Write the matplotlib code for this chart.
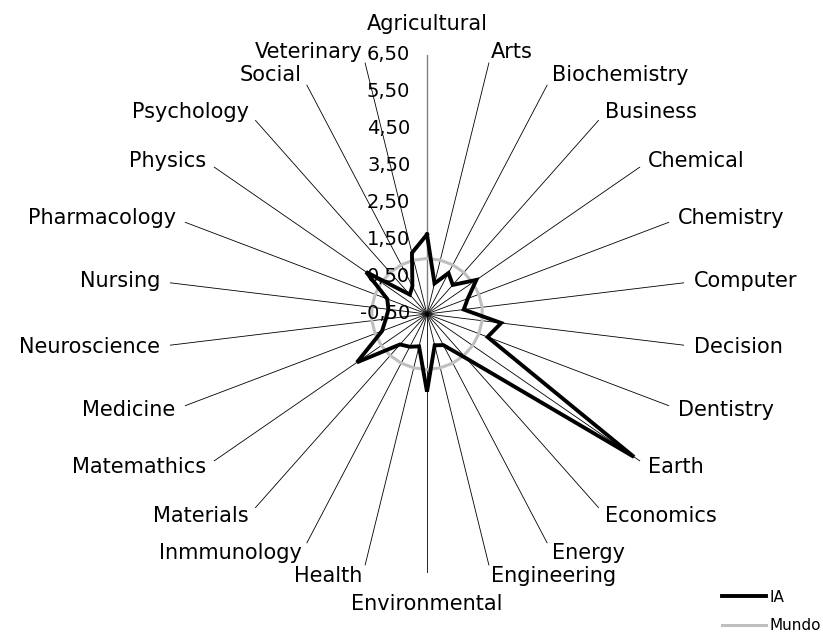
import numpy as np
import matplotlib
matplotlib.use("Agg")
import matplotlib.pyplot as plt

plt.rcParams['font.family'] = ['DejaVu Sans']

categories = ["Agricultural", "Arts", "Biochemistry", "Business", "Chemical", "Chemistry",
              "Computer", "Decision", "Dentistry", "Earth", "Economics", "Energy",
              "Engineering", "Environmental", "Health", "Inmmunology", "Materials",
              "Matemathics", "Medicine", "Neuroscience", "Nursing", "Pharmacology",
              "Physics", "Psychology", "Social", "Veterinary"]
ia = [1.65, 0.35, 0.75, 0.55, 1.12, 0.68,
      0.50, 1.52, 1.25, 6.30, 1.10, 0.45,
      0.37, 1.60, 0.40, 0.50, 0.60,
      1.80, 0.80, 0.62, 0.55, 0.65,
      1.50, 0.20, 0.35, 1.20]
mundo = [1.0] * len(categories)
rticks = [-0.5, 0.5, 1.5, 2.5, 3.5, 4.5, 5.5, 6.5]
rtick_labels = ["-0,50", "0,50", "1,50", "2,50", "3,50", "4,50", "5,50", "6,50"]

n = len(categories)
theta = np.arange(n) * 2 * np.pi / n
FS = 15

W, H = 823, 639
fig = plt.figure(figsize=(W / 100, H / 100), dpi=100)
cx, cy, R = 427, 314, 259
ax = fig.add_axes([(cx - R) / W, (H - cy - R) / H, 2 * R / W, 2 * R / H], projection='polar')
ax.set_theta_zero_location('N')
ax.set_theta_direction(-1)
ax.set_ylim(-0.5, 6.5)
ax.set_facecolor('none')
ax.spines['polar'].set_visible(False)

ax.set_thetagrids(np.degrees(theta), labels=[''] * n)
ax.set_rgrids(rticks, labels=[''] * len(rticks))
ax.yaxis.grid(False)
ax.xaxis.grid(True, color='black', linewidth=0.6)
gl = ax.xaxis.get_gridlines()
gl[0].set_color('#808080')
gl[0].set_linewidth(1.0)
ax.tick_params(axis='both', length=0)

th_closed = np.append(theta, theta[0])
ax.plot(th_closed, mundo + mundo[:1], color='#BFBFBF', linewidth=2.2, zorder=3, label='Mundo')
ax.plot(th_closed, ia + ia[:1], color='black', linewidth=2.8, zorder=4,
        solid_joinstyle='miter', label='IA')

for v, lab in zip(rticks, rtick_labels):
    ax.annotate(lab, xy=(0, v), xytext=(-12, 0), textcoords='offset points',
                ha='right', va='center', fontsize=14)

for t, lab in zip(theta, categories):
    s, c = np.sin(t), np.cos(t)
    if abs(s) < 0.05:
        ha = 'center'
        off = (0, 22 * np.sign(c))
    else:
        ha = 'left' if s > 0 else 'right'
        off = (7 * s, 8 * c)
    ax.annotate(lab, xy=(t, 6.5), xytext=off, textcoords='offset points',
                ha=ha, va='center', fontsize=FS)

handles, labels = ax.get_legend_handles_labels()
order = [1, 0]
fig.legend([handles[i] for i in order], [labels[i] for i in order],
           loc='upper left', bbox_to_anchor=(708 / W, 1 - 576 / H), frameon=False,
           fontsize=11, handlelength=2.9, handletextpad=0.2, labelspacing=0.9)

fig.savefig('out.png', dpi=100)
